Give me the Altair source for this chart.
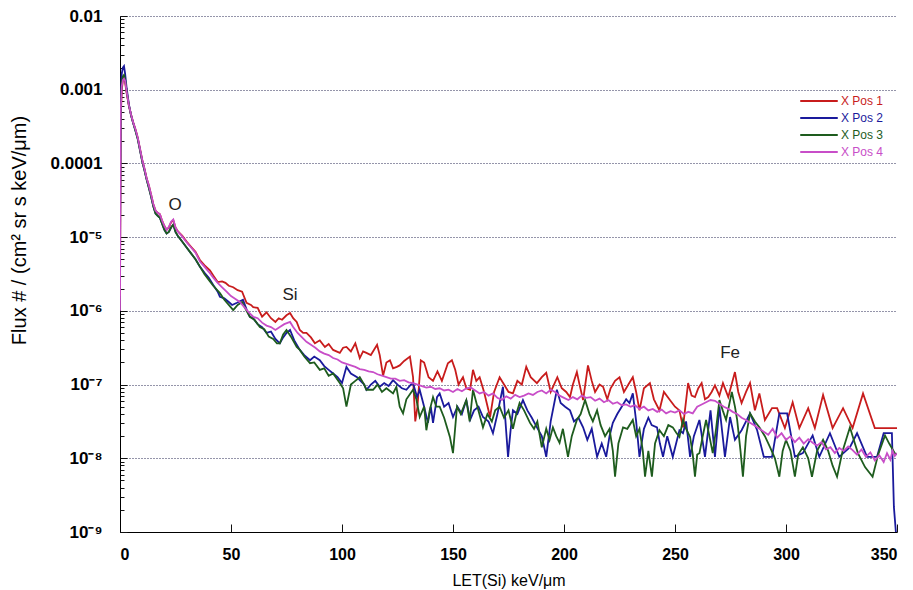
import altair as alt
import pandas as pd

SERIES = ["X Pos 1", "X Pos 2", "X Pos 3", "X Pos 4"]
COLORS = ["#c81c1c", "#1a1a9c", "#1e5c1e", "#c84ec8"]

EARLY_LET = [0, 0.3, 0.8, 1.3, 1.8, 2.3, 3, 4, 5, 6, 7, 8, 9, 10, 11, 12, 13, 14, 15,
             16, 17, 18, 19, 20, 21, 22, 23, 24, 25, 26, 28, 30, 32, 34]
POS1_EARLY = [-5.8, -3.4, -3.0, -2.88, -2.84, -2.9, -3.05, -3.22, -3.34, -3.45, -3.54, -3.65,
              -3.8, -3.95, -4.07, -4.2, -4.3, -4.42, -4.55, -4.64, -4.67, -4.69, -4.78, -4.85,
              -4.9, -4.87, -4.8, -4.77, -4.87, -4.92, -4.98, -5.06, -5.13, -5.2]
POS2_EARLY = [-5.15, -3.1, -2.78, -2.7, -2.68, -2.78, -2.98, -3.2, -3.35, -3.46, -3.56, -3.67,
              -3.82, -3.97, -4.09, -4.22, -4.33, -4.45, -4.58, -4.68, -4.71, -4.74, -4.82, -4.9,
              -4.95, -4.93, -4.87, -4.83, -4.93, -4.98, -5.06, -5.14, -5.22, -5.3]
POS3_EARLY = [-5.6, -3.3, -2.9, -2.82, -2.8, -2.86, -3.02, -3.21, -3.35, -3.46, -3.56, -3.67,
              -3.82, -3.97, -4.09, -4.22, -4.33, -4.45, -4.58, -4.68, -4.71, -4.74, -4.82, -4.9,
              -4.95, -4.93, -4.87, -4.83, -4.93, -4.98, -5.06, -5.14, -5.22, -5.3]
POS4_EARLY = [-6.0, -3.3, -2.95, -2.87, -2.85, -2.88, -3.03, -3.21, -3.34, -3.45, -3.54, -3.65,
              -3.8, -3.95, -4.07, -4.2, -4.3, -4.42, -4.55, -4.64, -4.67, -4.69, -4.78, -4.85,
              -4.9, -4.86, -4.79, -4.76, -4.87, -4.92, -4.99, -5.07, -5.14, -5.21]
POS1_REST = [
    (36, -5.31), (38, -5.38), (40.5, -5.45), (42, -5.52), (44, -5.61), (46, -5.6), (47.5, -5.62),
    (49, -5.66), (51, -5.68), (53, -5.72), (55, -5.74), (57, -5.89), (59, -5.92), (60, -5.95),
    (62, -5.96), (64, -6.08), (66, -6.02), (68, -6.1), (70, -6.15), (71.5, -6.1), (73, -6.12),
    (75, -6.06), (76.6, -6.03), (78, -6.1), (79.6, -6.15), (81, -6.26), (82.5, -6.3), (84, -6.3),
    (86, -6.36), (87.8, -6.44), (90, -6.4), (92.3, -6.49), (94, -6.45), (96, -6.53), (99, -6.57),
    (100.5, -6.5), (102, -6.49), (104, -6.55), (106, -6.44), (108, -6.64), (109.5, -6.55),
    (111, -6.57), (113, -6.6), (115.8, -6.46), (117, -6.6), (118.5, -6.88), (120, -6.7),
    (121.6, -6.67), (123, -6.78), (124.7, -6.76), (126, -6.74), (128, -6.68), (130.6, -6.62),
    (132, -6.9), (133, -7.5), (134, -7.3), (135.5, -6.67), (137, -6.7), (139, -6.9), (141, -6.95),
    (143, -6.82), (145, -6.95), (147.7, -6.71), (149.5, -6.67), (151, -6.8), (152.5, -7.0),
    (154.5, -6.9), (156, -7.05), (157.7, -7.07), (159, -6.8), (160.5, -6.95), (162, -6.9),
    (164, -7.1), (166.7, -7.44), (168.5, -7.1), (171, -6.9), (173, -7.0), (175, -7.1),
    (177, -7.12), (179, -6.95), (181, -7.0), (183, -6.76), (185, -6.9), (187.8, -6.98), (190, -6.9),
    (192, -6.84), (194, -7.1), (195.5, -7.0), (197, -6.9), (199, -7.05), (201, -7.1),
    (202.7, -7.17), (204, -7.0), (205.8, -6.83), (207, -7.0), (208.6, -7.21), (210.8, -6.74),
    (212.5, -6.95), (214, -7.1), (216, -7.0), (217.6, -7.03), (219.5, -7.2), (221, -7.05),
    (223, -6.95), (225, -6.9), (227, -7.1), (229, -7.0), (231, -6.9), (232.5, -7.1), (234, -7.35),
    (236, -7.05), (238.7, -6.98), (240.5, -7.2), (243, -7.35), (245, -7.1), (247.7, -7.21),
    (250, -7.3), (252, -7.35), (253.6, -7.58), (255.9, -6.98), (257.5, -7.15), (259, -7.17),
    (260.5, -7.05), (262, -6.98), (263.5, -7.2), (265, -7.17), (266.5, -7.1), (268, -7.01),
    (270, -7.15), (271.6, -6.98), (274, -7.17), (275.5, -7.0), (277, -6.83), (278.5, -7.1),
    (280, -7.25), (282, -7.1), (283.8, -6.98), (286, -7.35), (288, -7.12), (290.5, -7.48),
    (293.7, -7.32), (296, -7.32), (299.5, -7.59), (303, -7.24), (306, -7.59), (310, -7.32),
    (313, -7.59), (316.7, -7.14), (321, -7.59), (325.7, -7.32), (330, -7.59), (334.7, -7.12),
    (340, -7.59), (350, -7.59),
]
POS2_REST = [
    (36, -5.4), (38, -5.48), (40, -5.55), (42, -5.65), (44, -5.74), (45, -5.81), (47, -5.83),
    (49, -5.88), (50.5, -5.92), (52.7, -5.89), (55.4, -5.85), (57, -5.98), (58.5, -6.08),
    (60, -6.1), (62, -6.18), (64, -6.22), (66, -6.3), (68, -6.28), (70, -6.38), (72, -6.44),
    (73.5, -6.36), (75, -6.3), (76.6, -6.26), (78.5, -6.4), (81, -6.53), (83, -6.6),
    (85.6, -6.67), (87.5, -6.62), (90, -6.67), (92, -6.75), (94, -6.8), (96, -6.85), (98, -6.9),
    (100, -6.98), (102, -6.76), (104, -6.85), (106.8, -6.9), (108, -6.94), (110, -7.0),
    (111, -7.07), (113, -7.0), (115, -6.95), (117, -7.03), (119, -6.98), (121, -7.02),
    (123, -6.94), (125, -7.0), (127, -7.05), (129, -7.07), (131, -7.0), (132, -6.98),
    (133.8, -7.17), (135, -7.07), (137, -7.3), (138.7, -7.52), (140, -7.3), (141, -7.52),
    (142.8, -7.17), (144, -7.12), (146, -7.3), (148, -7.25), (150, -7.44), (152, -7.3),
    (154, -7.4), (156, -7.21), (157.7, -7.48), (159.5, -7.35), (161.5, -7.3), (163.5, -7.44),
    (166, -7.5), (168, -7.66), (170, -7.4), (172.5, -7.03), (174.8, -7.98), (176, -7.6),
    (177, -7.35), (179, -7.4), (181.5, -7.21), (183.5, -7.35), (185.5, -7.45), (187.8, -7.58),
    (190, -7.7), (192, -7.98), (194, -7.5), (196.8, -7.07), (198.5, -7.25), (200.5, -7.3),
    (202.7, -7.35), (204.5, -7.5), (206.5, -7.45), (208.6, -7.58), (210.5, -7.75), (212.5, -7.6),
    (214.9, -7.98), (217, -7.8), (219, -7.98), (220.5, -7.7), (222, -7.52), (224, -7.4),
    (226, -7.3), (228, -7.2), (229.5, -7.25), (231, -7.12), (232.5, -7.5), (234, -7.98),
    (236, -7.6), (238, -7.45), (239.5, -7.55), (241.9, -7.58), (243.2, -7.8), (244.6, -7.98),
    (246.5, -7.7), (249, -7.98), (250.5, -7.8), (252, -7.62), (253.6, -7.66), (255, -7.5),
    (256.8, -7.98), (258.5, -7.7), (261, -7.48), (263.5, -7.98), (266, -7.35), (268, -7.98),
    (270, -7.3), (272.5, -7.98), (274.8, -7.44), (277, -7.75), (280, -7.62), (283.8, -7.39),
    (287, -7.62), (290, -7.98), (293.7, -7.98), (297, -7.39), (300.5, -7.39), (304, -7.98),
    (307.6, -7.93), (312, -7.69), (315, -7.98), (319.8, -7.66), (324, -7.98), (328.8, -7.85),
    (332, -7.66), (336.5, -7.98), (341, -7.98), (344, -7.66), (347.7, -7.66), (348.6, -8.66),
    (349.5, -9.0),
]
POS3_REST = [
    (36, -5.4), (38, -5.5), (40, -5.58), (42, -5.66), (45, -5.76), (47, -5.85), (49, -5.92),
    (51, -5.99), (53, -5.92), (55, -5.88), (57, -6.0), (58.5, -6.08), (60.5, -6.12), (63, -6.22),
    (65, -6.25), (67, -6.35), (69, -6.38), (70.7, -6.44), (72, -6.44), (73.5, -6.32), (75, -6.26),
    (77, -6.35), (79.6, -6.49), (81, -6.53), (83, -6.62), (85.6, -6.71), (87.5, -6.7), (90, -6.8),
    (92, -6.78), (94, -6.88), (96, -6.85), (99, -6.98), (100.5, -7.05), (102, -7.3), (104, -7.0),
    (106, -6.95), (108, -6.9), (110, -7.0), (111, -7.07), (114, -7.07), (116, -7.0), (118, -7.1),
    (120, -7.05), (123, -7.12), (124.5, -7.03), (126, -7.3), (127.5, -7.39), (129, -7.2),
    (132, -7.07), (133.5, -7.2), (135, -7.44), (137, -7.3), (138, -7.62), (139.5, -7.35),
    (141, -7.17), (142.5, -7.3), (144, -7.3), (146, -7.45), (148.6, -7.71), (150, -7.93),
    (151.8, -7.3), (153.5, -7.4), (156, -7.21), (157.5, -7.5), (159, -7.07), (161, -7.3),
    (163.5, -7.58), (165.5, -7.4), (167.5, -7.5), (169, -7.35), (171, -7.3), (173, -7.45),
    (175, -7.35), (177, -7.6), (178.5, -7.4), (180, -7.25), (182, -7.35), (184.7, -7.52),
    (186.5, -7.6), (188, -7.5), (190, -7.85), (192, -7.6), (193.5, -7.75), (195, -7.58),
    (196.5, -7.7), (198, -7.79), (199.5, -7.6), (201.8, -7.98), (203.5, -7.7), (205.8, -7.48),
    (207.5, -7.4), (209.5, -7.21), (211.5, -7.4), (213, -7.5), (214.9, -7.35), (216.5, -7.55),
    (218.5, -7.7), (220.5, -7.6), (222, -7.9), (223, -8.25), (224.5, -7.8), (226.6, -7.58),
    (228.5, -7.6), (231, -7.48), (232.5, -7.7), (234, -7.6), (235.5, -7.9), (236.5, -8.25),
    (238, -7.9), (239.6, -8.25), (241, -7.8), (243, -7.62), (245, -7.7), (247, -7.55),
    (249, -7.58), (250.5, -7.65), (252, -7.71), (253.6, -7.48), (255, -7.6), (256.8, -7.71),
    (258, -7.95), (259, -8.25), (260, -7.95), (261, -7.93), (262.5, -7.7), (264, -7.48),
    (265.5, -7.7), (267, -7.93), (268.5, -7.6), (270, -7.21), (271.5, -7.35), (273, -7.48),
    (275.6, -7.1), (277, -7.3), (278, -7.48), (279.5, -7.9), (280.6, -8.25), (282, -7.7),
    (283.8, -7.39), (286, -7.5), (288, -7.58), (290.5, -7.7), (292.8, -7.85), (295, -8.0),
    (297, -8.25), (298.5, -7.9), (300, -7.75), (302, -7.9), (304, -8.25), (305.5, -7.95),
    (307.6, -7.85), (310, -8.0), (311.7, -8.25), (314, -7.9), (316.7, -7.75), (319, -7.9),
    (321, -8.1), (323, -8.25), (325.5, -7.9), (328.8, -7.58), (330.5, -7.75), (332.4, -7.93),
    (335.6, -8.12), (339, -8.25), (341.5, -7.95), (344.6, -7.69), (346.5, -7.8), (349, -7.93),
    (350, -7.95),
]
POS4_REST = [
    (36, -5.33), (38, -5.4), (40, -5.47), (42, -5.55), (44, -5.62), (46, -5.68), (48, -5.74),
    (50, -5.8), (52, -5.84), (54, -5.88), (56, -5.95), (58, -6.02), (60, -6.08), (62, -6.1),
    (64, -6.16), (66, -6.2), (68, -6.22), (70, -6.26), (72, -6.22), (74, -6.18), (76.6, -6.15),
    (78, -6.22), (80, -6.3), (82, -6.36), (84, -6.42), (86, -6.46), (88, -6.5), (90, -6.55),
    (92, -6.58), (94, -6.6), (96, -6.64), (98, -6.66), (100, -6.7), (102, -6.72), (104, -6.74),
    (106, -6.76), (108, -6.79), (110, -6.8), (112, -6.82), (114, -6.83), (116, -6.86),
    (118, -6.88), (120, -6.9), (122, -6.92), (124, -6.92), (126, -6.95), (128, -6.94),
    (130, -6.97), (132, -6.98), (134, -7.0), (136, -7.02), (138, -7.04), (140, -7.03),
    (142, -7.06), (144, -7.05), (146, -7.08), (148, -7.07), (150, -7.1), (152, -7.06),
    (154, -7.09), (156, -7.05), (158, -7.04), (160, -7.08), (162, -7.12), (164, -7.1),
    (166, -7.15), (168, -7.12), (170, -7.18), (172, -7.21), (174, -7.16), (176, -7.19),
    (178, -7.14), (180, -7.17), (182, -7.15), (184, -7.12), (186, -7.14), (188, -7.1),
    (190, -7.08), (192, -7.12), (194, -7.07), (196, -7.1), (198, -7.15), (200, -7.18),
    (202, -7.21), (204, -7.17), (206, -7.2), (208, -7.15), (210, -7.18), (212, -7.17),
    (214, -7.22), (216, -7.19), (218, -7.24), (220, -7.21), (222, -7.26), (224, -7.24),
    (226, -7.28), (228, -7.27), (230, -7.3), (232, -7.28), (234, -7.33), (236, -7.3),
    (238, -7.35), (240, -7.33), (242, -7.37), (244, -7.34), (246, -7.39), (248, -7.36),
    (250, -7.38), (252, -7.35), (254, -7.4), (256, -7.37), (258, -7.39), (260, -7.3),
    (262, -7.27), (264, -7.24), (266, -7.21), (268, -7.22), (270, -7.26), (272, -7.3),
    (274, -7.33), (276, -7.37), (278, -7.4), (280, -7.45), (282, -7.48), (284, -7.52),
    (286, -7.56), (288, -7.6), (290, -7.64), (292, -7.68), (294, -7.6), (296, -7.72),
    (298, -7.66), (300, -7.75), (302, -7.7), (304, -7.78), (306, -7.72), (308, -7.8),
    (310, -7.74), (312, -7.79), (314, -7.83), (316, -7.78), (318, -7.88), (320, -7.85),
    (322, -7.93), (324, -7.86), (326, -7.9), (328, -7.84), (330, -7.89), (332, -7.95),
    (334, -7.88), (336, -7.98), (338, -7.92), (340, -8.03), (342, -7.96), (344, -8.05),
    (345.5, -7.93), (347, -8.02), (348, -7.9), (349, -7.97), (350, -7.93),
]

NOTE_LABELS = ["O", "Si", "Fe"]
NOTE_LET = [24.8, 76.6, 274.8]
NOTE_LOG = [-4.56, -5.79, -6.57]

X_TICKS = [0, 50, 100, 150, 200, 250, 300, 350]
DECADES = [1e-9, 1e-8, 1e-7, 1e-6, 1e-5, 1e-4, 1e-3, 1e-2]
MINOR_MULT = [2, 3, 4, 5, 6, 7, 8, 9]

rows = []
for name, early, rest in zip(SERIES,
                             [POS1_EARLY, POS2_EARLY, POS3_EARLY, POS4_EARLY],
                             [POS1_REST, POS2_REST, POS3_REST, POS4_REST]):
    for x, v in zip(EARLY_LET, early):
        rows.append({"series": name, "let": x, "flux": 10 ** v})
    for x, v in rest:
        rows.append({"series": name, "let": x, "flux": 10 ** v})
df = pd.DataFrame(rows)

notes = pd.DataFrame({"label": NOTE_LABELS, "let": NOTE_LET,
                      "flux": [10 ** v for v in NOTE_LOG]})

minor_ticks = sorted([d * m for d in DECADES[:-1] for m in MINOR_MULT])

FONT = "Liberation Sans"
xscale = alt.Scale(domain=[0, 350], nice=False, zero=False)
yscale = alt.Scale(type="log", domain=[1e-9, 1e-2], nice=False)

sup = "['⁰','¹','²','³','⁴','⁵','⁶','⁷','⁸','⁹']"
exp = "round(log(datum.value)/LN10)"
label_expr = (f"{exp} == -2 ? '0.01' : {exp} == -3 ? '0.001' : {exp} == -4 ? '0.0001' : "
              f"'10⁻' + {sup}[-{exp}]")

lines = alt.Chart(df).mark_line(strokeWidth=1.8, clip=True).encode(
    x=alt.X("let:Q", scale=xscale,
            axis=alt.Axis(values=X_TICKS, title="LET(Si) keV/μm", ticks=False, grid=False,
                          domainColor="black", domainWidth=1, labelFont=FONT,
                          labelFontSize=16, labelFontWeight="bold", labelColor="black",
                          labelPadding=14, titleFont=FONT, titleFontSize=16,
                          titleFontWeight="normal", titleColor="black", titlePadding=10)),
    y=alt.Y("flux:Q", scale=yscale,
            axis=alt.Axis(values=DECADES, labelExpr=label_expr, title="Flux  # / (cm² sr s keV/μm)",
                          ticks=False, grid=True, gridDash=[1, 2], gridColor="#2a2a55",
                          gridWidth=1, domainColor="black", domainWidth=1, labelFont=FONT,
                          labelFontSize=17, labelFontWeight="bold", labelColor="black",
                          labelPadding=18, titleFont=FONT, titleFontSize=20, titleY=214,
                          titleFontWeight="normal", titleColor="black", titlePadding=21)),
    color=alt.Color("series:N", scale=alt.Scale(domain=SERIES, range=COLORS),
                    legend=alt.Legend(title=None, orient="none", legendX=693, legendY=79,
                                      symbolType="M-4,0H4", symbolSize=88,
                                      symbolStrokeWidth=2, labelFont=FONT, labelFontSize=12,
                                      labelColor={"expr": "scale('color', datum.value)"},
                                      rowPadding=5, padding=0, labelOffset=16)),
    detail="series:N",
)

annot = alt.Chart(notes).mark_text(font=FONT, fontSize=17, color="#222222").encode(
    x=alt.X("let:Q", scale=xscale,
            axis=alt.Axis(orient="top", offset=-516, values=X_TICKS, labels=False,
                          domain=False, grid=False, ticks=True, tickSize=8, tickWidth=1,
                          tickColor="#111111", title=None)),
    y=alt.Y("flux:Q", scale=yscale,
            axis=alt.Axis(orient="right", offset=-777, values=minor_ticks, labels=False,
                          domain=False, grid=False, ticks=True, tickSize=4, tickWidth=1,
                          tickColor="#111111", title=None)),
    text="label:N",
)

# longer ticks at the decades on the y axis
major = alt.Chart(notes).mark_text(opacity=0).encode(
    x=alt.X("let:Q", scale=xscale, axis=None),
    y=alt.Y("flux:Q", scale=yscale,
            axis=alt.Axis(orient="right", offset=-777, values=DECADES, labels=False,
                          domain=False, grid=False, ticks=True, tickSize=7, tickWidth=1,
                          tickColor="#111111", title=None)),
    text="label:N",
)

chart = alt.layer(lines, annot, major).resolve_axis(x="independent", y="independent").properties(
    width=777, height=516,
    autosize=alt.AutoSizeParams(type="none"),
    padding={"left": 120, "top": 16, "right": 16, "bottom": 58},
    background="white",
).configure_view(stroke=None)

chart.save("out.html", embed_options={"renderer": "svg", "actions": False})
